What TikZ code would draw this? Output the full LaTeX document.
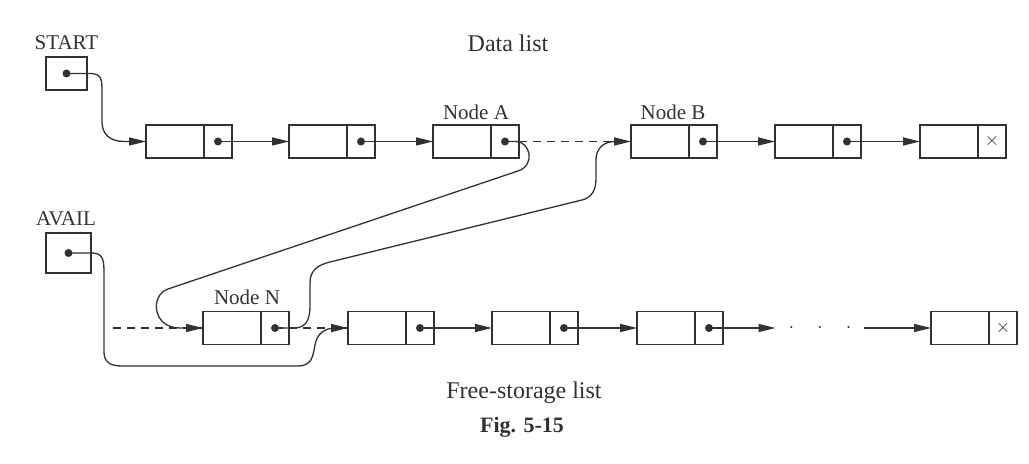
\documentclass[tikz,border=0pt]{standalone}
\usepackage{fontspec}
\setmainfont{Liberation Serif}
\usetikzlibrary{arrows.meta,positioning}
\definecolor{ink}{RGB}{50,50,50}
\tikzset{%
    cell/.style={draw=ink, line width=0.65pt, inner sep=0pt, outer sep=0pt, minimum height=16.5pt},
    info/.style={cell, minimum width=29pt, anchor=west},
    link/.style={cell, minimum width=14pt,
        path picture={\fill[ink] (path picture bounding box.center) circle (2pt);}},
    nil/.style={cell, minimum width=14pt, text=ink, font=\small},
    ptr/.style={-{Triangle[length=8.5pt,width=4pt]}, draw=ink, line width=0.65pt},
    old/.style={draw=ink, line width=0.65pt, dash pattern=on 4pt off 3pt},
    tag/.style={text=ink, inner sep=0pt, font=\fontsize{10.5}{12}\selectfont},
    title/.style={tag, font=\fontsize{12}{14}\selectfont}
}

\begin{document}
\begin{tikzpicture}[x=0.5pt, y=-0.5pt]
    \useasboundingbox[fill=white] (0,0) rectangle (1029,464);
%-----------------------------------------------
    \node[link, minimum width=20.5pt] (start) at (66.5,73.5) {};
    \node[link, minimum width=22.5pt, minimum height=20pt] (avail) at (68.5,253) {};
%-----------------------------------------------
    \node[info] (d1) at (146,141.5) {};
    \node[link, right=0pt of d1] (d1p) {};
    \node[info] (d2) at (289,141.5) {};
    \node[link, right=0pt of d2] (d2p) {};
    \node[info] (dA) at (433,141.5) {};
    \node[link, right=0pt of dA] (dAp) {};
    \node[info] (dB) at (631,141.5) {};
    \node[link, right=0pt of dB] (dBp) {};
    \node[info] (d5) at (775,141.5) {};
    \node[link, right=0pt of d5] (d5p) {};
    \node[info] (d6) at (920,141.5) {};
    \node[nil, right=0pt of d6] (d6p) {$\times$};
%-----------------------------------------------
    \node[info] (fN) at (203,328) {};
    \node[link, right=0pt of fN] (fNp) {};
    \node[info] (f1) at (348,328) {};
    \node[link, right=0pt of f1] (f1p) {};
    \node[info] (f2) at (492,328) {};
    \node[link, right=0pt of f2] (f2p) {};
    \node[info] (f3) at (637,328) {};
    \node[link, right=0pt of f3] (f3p) {};
    \node[inner sep=0pt, minimum width=44pt, text=ink] (gap) at (820,328) {$\cdot$\hspace{11.5pt}$\cdot$\hspace{11.5pt}$\cdot$};
    \node[info] (f4) at (931,328) {};
    \node[nil, right=0pt of f4] (f4p) {$\times$};
    \coordinate (oldavail) at (113,328);
%-----------------------------------------------
    \draw[ptr] (start.center) -- (90,73.5) .. controls (102,73.5) and (102,80) .. (102,92)
        -- (102,122) .. controls (102,134) and (110,141.5) .. (124,141.5) -- (d1.west);
    \draw[ptr] (d1p.center) -- (d2.west);
    \draw[ptr] (d2p.center) -- (dA.west);
    \draw[old] (dAp.center) -- (dB.west);
    \draw[ptr] (dBp.center) -- (d5.west);
    \draw[ptr] (d5p.center) -- (d6.west);
%-----------------------------------------------
    \draw[ptr] (dAp.center) -- (516,141.5) .. controls (530,141.5) and (536,165) .. (518,171)
        -- (168,289) .. controls (150,295) and (152,328) .. (180,328) -- (fN.west);
    \draw[ptr] (fNp.center) -- (294,328) .. controls (306,328) and (310,320) .. (310,306)
        -- (310,283) .. controls (310,270) and (318,265) .. (330,262)
        -- (582,200) .. controls (592,197.5) and (596,190) .. (596,178)
        -- (596,160) .. controls (596,149) and (603,141.5) .. (615,141.5) -- (dB.west);
%-----------------------------------------------
    \draw[ptr] (avail.center) -- (92,253) .. controls (104,253) and (104,262) .. (104,274)
        -- (104,352) .. controls (104,362) and (110,366) .. (122,366)
        -- (298,366) .. controls (312,366) and (313,356) .. (315,345)
        .. controls (317,334) and (324,328) .. (336,328) -- (f1.west);
    \draw[old] (oldavail) -- (fN.west);
    \draw[old] (fNp.center) -- (f1.west);
    \draw[ptr] (f1p.center) -- (f2.west);
    \draw[ptr] (f2p.center) -- (f3.west);
    \draw[ptr] (f3p.center) -- (gap.west);
    \draw[ptr] (gap.east) -- (f4.west);
%-----------------------------------------------
    \node[tag] (startlbl) at (66.5,43) {START};
    \node[tag] (availlbl) at (66,219) {AVAIL};
    \node[title] (datalbl) at (508,43) {Data list};
    \node[tag] (albl) at (476,112) {Node A};
    \node[tag] (blbl) at (673,112) {Node B};
    \node[tag] (nlbl) at (247,297) {Node N};
    \node[title] (freelbl) at (524,393) {Free-storage list};
    \node[tag, font=\fontsize{11}{13}\selectfont\bfseries] (figlbl) at (522,427) {Fig. 5-15};
\end{tikzpicture}
\end{document}
